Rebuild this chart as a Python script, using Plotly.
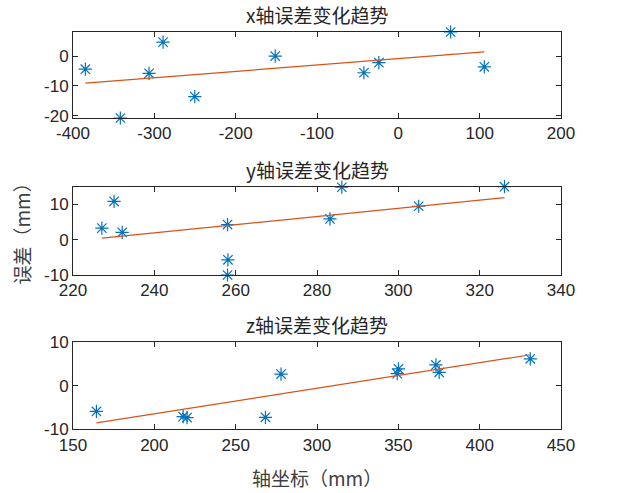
import numpy as np
import plotly.graph_objects as go

# ---------------- data ----------------
x_pos = [-384.8, -341.8, -306.5, -289.3, -250.3, -151.4, -42.3, -23.9, 64.3, 105.7]
x_err = [-4.4, -20.8, -5.8, 4.7, -13.6, 0.0, -5.6, -2.2, 8.1, -3.6]

y_pos = [227.1, 230.1, 232.1, 258.0, 258.1, 258.0, 283.2, 286.1, 305.0, 326.1]
y_err = [3.3, 10.9, 2.1, 4.3, -5.7, -10.0, 5.9, 14.9, 9.5, 15.05]

z_pos = [164.4, 217.7, 220.1, 268.3, 277.9, 349.3, 350.1, 373.1, 375.1, 431.1]
z_err = [-5.9, -7.1, -7.3, -7.25, 2.7, 2.8, 3.9, 4.8, 3.1, 6.2]

titles = ["x轴误差变化趋势", "y轴误差变化趋势", "z轴误差变化趋势"]
x_ticks = [[-400, -300, -200, -100, 0, 100, 200],
           [220, 240, 260, 280, 300, 320, 340],
           [150, 200, 250, 300, 350, 400, 450]]
y_ticks = [[-20, -10, 0], [-10, 0, 10], [-10, 0, 10]]
x_ranges = [[-400, 200], [220, 340], [150, 450]]
y_ranges = [[-20.8, 8.1], [-10.0, 15.05], [-10, 10]]
x_label = "轴坐标（mm）"
y_label = "误差（mm）"

W, H = 622, 493
left_px, right_px = 73, 561
boxes = [(32, 118), (186.7, 275), (342.3, 429.3)]  # (top, bottom) in px

BLUE = "#0072BD"
ORANGE = "#D95319"
AX = "#262626"
TICKFONT = dict(family="Liberation Sans, Arial, sans-serif", size=17, color=AX)
CJK = "Noto Sans CJK SC"

fig = go.Figure()
datasets = [(x_pos, x_err), (y_pos, y_err), (z_pos, z_err)]
layout = dict(
    width=W, height=H,
    margin=dict(l=0, r=0, t=0, b=0, autoexpand=False),
    paper_bgcolor="white", plot_bgcolor="white",
    showlegend=False,
)
annotations = []
for i, (xs, ys) in enumerate(datasets):
    k = "" if i == 0 else str(i + 1)
    xs_a = np.array(xs)
    ys_a = np.array(ys)
    p = np.polyfit(xs_a, ys_a, 1)
    fx = np.array([xs_a.min(), xs_a.max()])
    fy = np.polyval(p, fx)
    fig.add_trace(go.Scatter(x=xs, y=ys, mode="markers", xaxis="x" + k, yaxis="y" + k,
                             marker=dict(symbol="asterisk-open", size=11, color=BLUE,
                                         line=dict(color=BLUE, width=1.2)),
                             cliponaxis=False))
    fig.add_trace(go.Scatter(x=fx, y=fy, mode="lines", xaxis="x" + k, yaxis="y" + k,
                             line=dict(color=ORANGE, width=1.2)))
    top, bot = boxes[i]
    layout["xaxis" + k] = dict(
        domain=[left_px / W, right_px / W], anchor="y" + k, range=x_ranges[i],
        tickvals=x_ticks[i], ticktext=[str(v) for v in x_ticks[i]], automargin=False,
        ticks="inside", ticklen=5, tickcolor=AX, showline=True, linecolor=AX, linewidth=1,
        mirror="ticks", showgrid=False, zeroline=False, tickfont=TICKFONT)
    layout["yaxis" + k] = dict(
        domain=[1 - bot / H, 1 - top / H], anchor="x" + k, range=y_ranges[i],
        tickvals=y_ticks[i], ticktext=[str(v) for v in y_ticks[i]], automargin=False,
        ticks="inside", ticklen=5, tickcolor=AX, showline=True, linecolor=AX, linewidth=1,
        mirror="ticks", showgrid=False, zeroline=False, tickfont=TICKFONT)
    annotations.append(dict(text=titles[i], x=(left_px + right_px) / 2 / W, y=1 - (top - 2) / H,
                            xref="paper", yref="paper", xanchor="center", yanchor="bottom",
                            showarrow=False, font=dict(family=CJK, size=19, color=AX)))

annotations.append(dict(text=x_label, x=(left_px + right_px) / 2 / W, y=1 - 462 / H,
                        xref="paper", yref="paper", xanchor="center", yanchor="top",
                        showarrow=False, font=dict(family=CJK, size=19, color="#404040")))
annotations.append(dict(text=y_label, x=5 / W, y=1 - 229 / H, textangle=-90,
                        xref="paper", yref="paper", xanchor="left", yanchor="middle",
                        showarrow=False, font=dict(family=CJK, size=19, color="#404040")))
layout["annotations"] = annotations
fig.update_layout(**layout)
fig.write_html("out.html", config={"displayModeBar": False},
               post_script="document.body.style.margin='0';document.body.style.overflow='hidden';")
